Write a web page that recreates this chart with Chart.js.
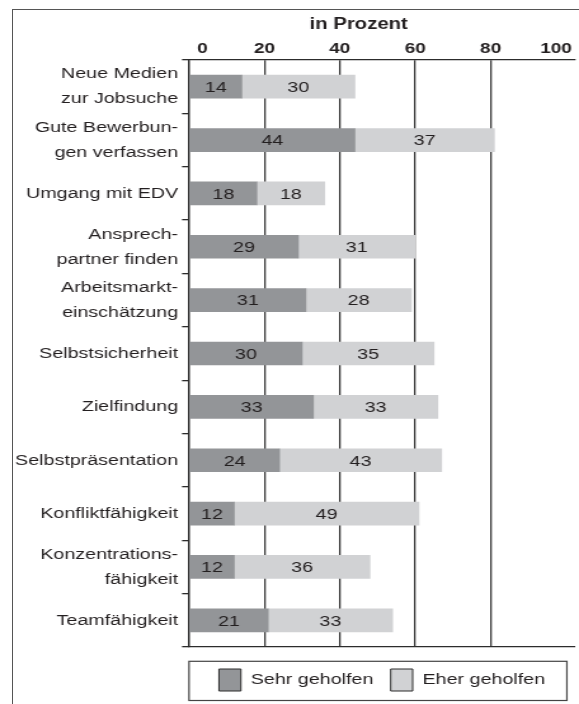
<!doctype html>
<html lang="de">
<head>
  <meta charset="utf-8">
  <title>Was hat geholfen? (in Prozent)</title>
  <style>
    * { margin: 0; padding: 0; }
    html, body { width: 579px; height: 704px; overflow: hidden; background: white; }
    /* the source picture is stretched horizontally, so the chart is drawn narrow and widened */
    .chartBox {
      position: absolute; left: 0; top: 0;
      width: 470px; height: 704px;
      transform: scaleX(1.26974);
      transform-origin: 0 0;
    }
    .frame {
      position: absolute; left: 12px; top: 8.5px;
      width: 700px; height: 800px;
      border-left: 1.5px solid #555;
      border-top: 1.5px solid #555;
    }
  </style>
</head>
<body>
  <div class="frame"></div>
  <div class="chartBox">
    <canvas id="myChart"></canvas>
  </div>

  <script src="https://cdn.jsdelivr.net/npm/chart.js"></script>
  <script>
    // data
    const categories = [
      ['Neue Medien', 'zur Jobsuche'],
      ['Gute Bewerbun-', 'gen verfassen'],
      'Umgang mit EDV',
      ['Ansprech-', 'partner finden'],
      ['Arbeitsmarkt-', 'einschätzung'],
      'Selbstsicherheit',
      'Zielfindung',
      'Selbstpräsentation',
      'Konfliktfähigkeit',
      ['Konzentrations-', 'fähigkeit'],
      'Teamfähigkeit'
    ];
    const sehrGeholfen = [14, 44, 18, 29, 31, 30, 33, 24, 12, 12, 21];
    const eherGeholfen = [30, 37, 18, 31, 28, 35, 33, 43, 49, 36, 33];
    const seriesNames = ['Sehr geholfen', 'Eher geholfen'];
    const xTicks = [0, 20, 40, 60, 80, 100];
    const axisTitle = 'in Prozent';

    const FONT = '"Liberation Sans", Arial, Helvetica, sans-serif';
    const TEXT = '#231f20';
    const LINE = '#2c2c2c';
    Chart.defaults.font.family = FONT;
    Chart.defaults.color = TEXT;

    // numbers inside the bars
    const barValues = {
      id: 'barValues',
      afterDatasetsDraw(chart) {
        const ctx = chart.ctx;
        ctx.save();
        ctx.font = '15.5px ' + FONT;
        ctx.fillStyle = TEXT;
        ctx.textAlign = 'center';
        ctx.textBaseline = 'middle';
        chart.data.datasets.forEach((ds, i) => {
          chart.getDatasetMeta(i).data.forEach((bar, j) => {
            ctx.fillText(ds.data[j], (bar.x + bar.base) / 2, bar.y + 1);
          });
        });
        ctx.restore();
      }
    };

    // top tick labels (kept inside the plot at both ends), "in Prozent", legend box
    const extras = {
      id: 'extras',
      afterDraw(chart) {
        const { ctx, scales: { x }, legend, chartArea } = chart;
        ctx.save();
        ctx.fillStyle = TEXT;
        ctx.textAlign = 'center';
        ctx.textBaseline = 'middle';

        ctx.font = 'bold 15px ' + FONT;
        xTicks.forEach(v => {
          const txt = String(v);
          const w = ctx.measureText(txt).width;
          let cx = x.getPixelForValue(v);
          cx = Math.max(cx, chartArea.left + 6.3 + w / 2);
          cx = Math.min(cx, chartArea.right - 2.4 - w / 2);
          ctx.fillText(txt, cx, chartArea.top - 11.5);
        });

        ctx.font = 'bold 16px ' + FONT;
        ctx.fillText(axisTitle, x.getPixelForValue(45), chartArea.top - 35.5);

        ctx.strokeStyle = '#444';
        ctx.lineWidth = 1.2;
        const l = x.getPixelForValue(0);
        const r = x.getPixelForValue(100) + 0.7;
        ctx.strokeRect(l, legend.top + 6, r - l, legend.bottom - legend.top - 6.5);
        ctx.restore();
      }
    };

    const data = {
      labels: categories,
      datasets: [
        {
          label: seriesNames[0],
          data: sehrGeholfen,
          backgroundColor: '#939598',
          barThickness: 23
        },
        {
          label: seriesNames[1],
          data: eherGeholfen,
          backgroundColor: '#d1d2d4',
          barThickness: 23
        }
      ]
    };

    const config = {
      type: 'bar',
      data,
      plugins: [barValues, extras],
      options: {
        indexAxis: 'y',
        responsive: true,
        maintainAspectRatio: false,
        animation: false,
        layout: {
          autoPadding: false,
          padding: { top: 0, left: 0, right: 17.14, bottom: 3 }
        },
        scales: {
          x: {
            position: 'top',
            stacked: true,
            min: 0,
            max: 102.39,
            afterBuildTicks: (scale) => {
              scale.ticks = xTicks.map(v => ({ value: v }));
            },
            afterFit: (scale) => { scale.height = 60; },
            ticks: { display: false },
            grid: {
              drawTicks: false,
              // no line at 100 in the original
              color: (c) => (c.tick && c.tick.value >= 100) ? 'rgba(0,0,0,0)' : '#3a3a3a',
              lineWidth: 1.3
            },
            border: { display: true, color: LINE, width: 1.3 }
          },
          xb: {
            type: 'linear',
            position: 'bottom',
            min: 0,
            max: 102.39,
            ticks: { display: false },
            grid: { display: false, drawTicks: false },
            border: { display: true, color: LINE, width: 1.3 },
            afterFit: (scale) => { scale.height = 8.3; }
          },
          y: {
            stacked: true,
            offset: true,
            afterFit: (scale) => { scale.width = 148.85; },
            ticks: {
              autoSkip: false,
              padding: 3.1,
              color: TEXT,
              font: { size: 15.5, lineHeight: '25px' }
            },
            grid: {
              offset: true,
              drawOnChartArea: false,
              drawTicks: true,
              tickLength: 5.5,
              color: LINE,
              lineWidth: 1.3
            },
            border: { display: true, color: LINE, width: 1.3 }
          }
        },
        plugins: {
          title: { display: false },
          tooltip: { enabled: false },
          legend: {
            display: true,
            position: 'bottom',
            fullSize: false,
            labels: {
              boxWidth: 17.3,
              boxHeight: 22,
              padding: 13.7,
              color: TEXT,
              font: { size: 15.5 },
              generateLabels: (chart) => {
                const items = Chart.defaults.plugins.legend.labels.generateLabels(chart);
                items.forEach(it => { it.strokeStyle = '#2c2c2c'; it.lineWidth = 1; });
                return items;
              }
            }
          }
        }
      }
    };

    const myChart = new Chart(document.getElementById('myChart'), config);
  </script>
</body>
</html>
